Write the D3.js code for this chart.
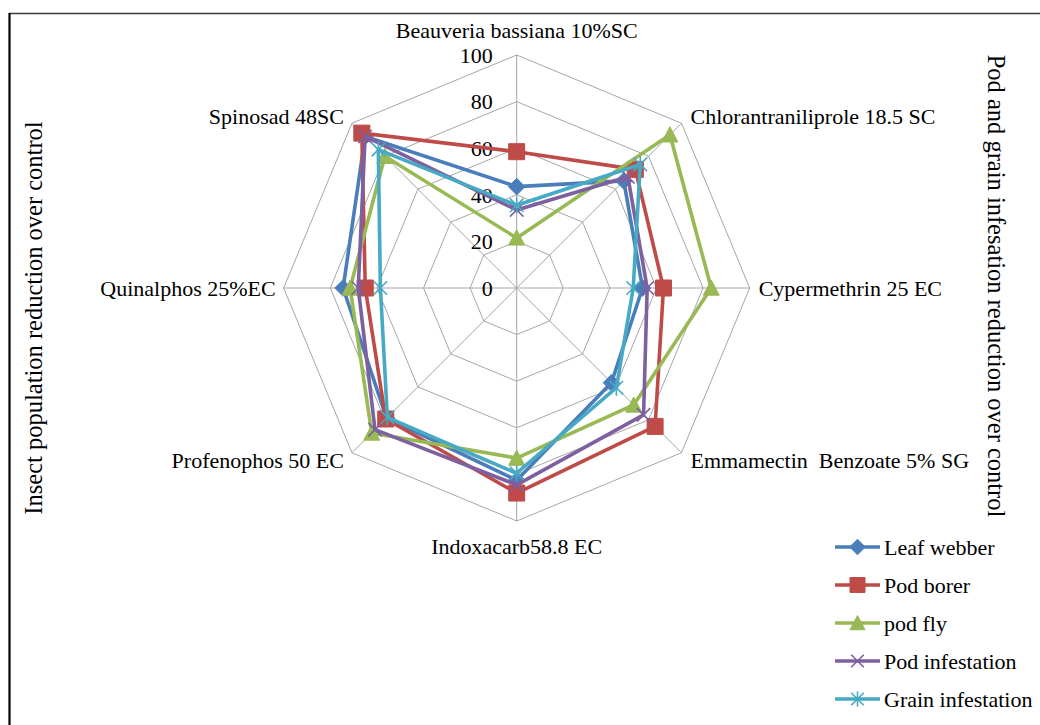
<!DOCTYPE html>
<html>
<head>
<meta charset="utf-8">
<script src="https://cdn.jsdelivr.net/npm/d3@7"></script>
<style>
  html, body { margin: 0; padding: 0; background: #fff; }
  svg { display: block; }
  text { font-family: "Liberation Serif", "Times New Roman", serif; fill: #000; white-space: pre; }
</style>
</head>
<body>
<svg id="chart" width="1040" height="725"></svg>
<script>
// ---------- data ----------
const categories = [
  "Beauveria bassiana 10%SC",
  "Chlorantraniliprole 18.5 SC",
  "Cypermethrin 25 EC",
  "Emmamectin  Benzoate 5% SG",
  "Indoxacarb58.8 EC",
  "Profenophos 50 EC",
  "Quinalphos 25%EC",
  "Spinosad 48SC"
];
const seriesNames = ["Leaf webber", "Pod borer", "pod fly", "Pod infestation", "Grain infestation"];
const leafWebber       = [43.5, 65, 54, 57.5, 82.5, 79, 74.5, 92];
const podBorer         = [58.5, 72, 63, 84, 88, 79.5, 65, 94];
const podFly           = [21.5, 93, 83.5, 71, 73, 88, 71.5, 80];
const podInfestation   = [33.5, 67.5, 56, 77, 84.5, 86, 68, 92];
const grainInfestation = [35.5, 75, 50, 60.5, 79.5, 78.5, 58.5, 84];
const tickValues = [0, 20, 40, 60, 80, 100];
const leftTitle = "Insect population reduction over control";
const rightTitle = "Pod and grain infesation reduction over control";

const seriesValues = [leafWebber, podBorer, podFly, podInfestation, grainInfestation];
const colors = ["#4A7EBB", "#BE4B48", "#98B954", "#7D60A0", "#46AAC5"];
const markers = ["diamond", "square", "triangle", "x", "asterisk"];

// ---------- layout ----------
const svg = d3.select("#chart");
const W = 1040, H = 725;
const cx = 516.7, cy = 288, R = 233;
const FS = 22;

// frame
svg.append("rect").attr("x", 9.5).attr("y", 13.5).attr("width", W + 10).attr("height", H + 10)
  .attr("fill", "#fff").attr("stroke", "#3a3a3a").attr("stroke-width", 1.5);
svg.append("line").attr("x1", 9.5).attr("x2", 9.5).attr("y1", 13).attr("y2", H)
  .attr("stroke", "#000").attr("stroke-width", 2);

const r = d3.scaleLinear().domain([0, 100]).range([0, R]);
const angle = d3.scaleLinear().domain([0, categories.length]).range([0, 2 * Math.PI]);
const px = (i, v) => cx + r(v) * Math.sin(angle(i));
const py = (i, v) => cy - r(v) * Math.cos(angle(i));

const g = svg.append("g");

// grid rings
tickValues.filter(t => t > 0).forEach(t => {
  g.append("path")
    .attr("d", d3.line()(categories.map((c, i) => [px(i, t), py(i, t)])) + "Z")
    .attr("fill", "none").attr("stroke", "#a6a6a6").attr("stroke-width", 1);
});
// spokes
categories.forEach((c, i) => {
  g.append("line").attr("x1", cx).attr("y1", cy).attr("x2", px(i, 100)).attr("y2", py(i, 100))
    .attr("stroke", "#a6a6a6").attr("stroke-width", 1);
});

// tick labels
tickValues.forEach(t => {
  g.append("text").attr("x", cx - 24).attr("y", cy - r(t)).attr("dy", "0.35em")
    .attr("text-anchor", "end").attr("font-size", FS).text(t);
});

// category labels
categories.forEach((c, i) => {
  const s = Math.sin(angle(i)), co = Math.cos(angle(i));
  let x = px(i, 100), y = py(i, 100);
  let anchor = "middle";
  if (s > 0.1) { anchor = "start"; x += 9; }
  else if (s < -0.1) { anchor = "end"; x -= 8; }
  if (Math.abs(s) < 0.1) { y += co > 0 ? -25 : 25; }
  else if (co > 0.1) { y -= 7; }
  else if (co < -0.1) { y += 8; }
  g.append("text").attr("x", x).attr("y", y).attr("dy", "0.35em")
    .attr("text-anchor", anchor).attr("font-size", FS).attr("xml:space", "preserve").text(c);
});

// marker path generator
function markerPath(type, x, y, s) {
  const p = d3.path();
  if (type === "diamond") {
    const h = s * 0.52;
    p.moveTo(x, y - h); p.lineTo(x + h, y); p.lineTo(x, y + h); p.lineTo(x - h, y); p.closePath();
  } else if (type === "square") {
    const h = s * 0.5;
    p.rect(x - h, y - h, 2 * h, 2 * h);
  } else if (type === "triangle") {
    const h = s * 0.5;
    p.moveTo(x, y - h); p.lineTo(x + h, y + h * 0.9); p.lineTo(x - h, y + h * 0.9); p.closePath();
  } else if (type === "x") {
    const h = s * 0.42;
    p.moveTo(x - h, y - h); p.lineTo(x + h, y + h); p.moveTo(x + h, y - h); p.lineTo(x - h, y + h);
  } else if (type === "asterisk") {
    const h = s * 0.42;
    p.moveTo(x - h, y - h); p.lineTo(x + h, y + h); p.moveTo(x + h, y - h); p.lineTo(x - h, y + h);
    p.moveTo(x, y - h * 1.2); p.lineTo(x, y + h * 1.2);
  }
  return p.toString();
}
function drawMarker(sel, type, x, y, color, s) {
  const filled = type !== "x" && type !== "asterisk";
  sel.append("path").attr("d", markerPath(type, x, y, s))
    .attr("fill", filled ? color : "none")
    .attr("stroke", color).attr("stroke-width", filled ? 1 : 1.6);
}

// series
const radial = d3.lineRadial().angle((d, i) => angle(i)).radius(d => r(d)).curve(d3.curveLinearClosed);
seriesValues.forEach((vals, k) => {
  const sg = g.append("g");
  sg.append("path").attr("transform", `translate(${cx},${cy})`)
    .attr("d", radial(vals)).attr("fill", "none")
    .attr("stroke", colors[k]).attr("stroke-width", 3.6).attr("stroke-linejoin", "round");
  vals.forEach((v, i) => drawMarker(sg, markers[k], px(i, v), py(i, v), colors[k], 16));
});

// legend
const lg = svg.append("g");
seriesNames.forEach((n, k) => {
  const y = 547 + k * 38;
  lg.append("line").attr("x1", 835).attr("x2", 880).attr("y1", y).attr("y2", y)
    .attr("stroke", colors[k]).attr("stroke-width", 3.6);
  drawMarker(lg, markers[k], 857.5, y, colors[k], 15);
  lg.append("text").attr("x", 884).attr("y", y).attr("dy", "0.35em").attr("font-size", FS).text(n);
});

// axis titles
svg.append("text").attr("transform", `translate(33,318) rotate(-90)`).attr("dy", "0.35em")
  .attr("text-anchor", "middle").attr("font-size", 24.5).text(leftTitle);
svg.append("text").attr("transform", `translate(997,286) rotate(90)`).attr("dy", "0.35em")
  .attr("text-anchor", "middle").attr("font-size", 24.5).text(rightTitle);
</script>
</body>
</html>
